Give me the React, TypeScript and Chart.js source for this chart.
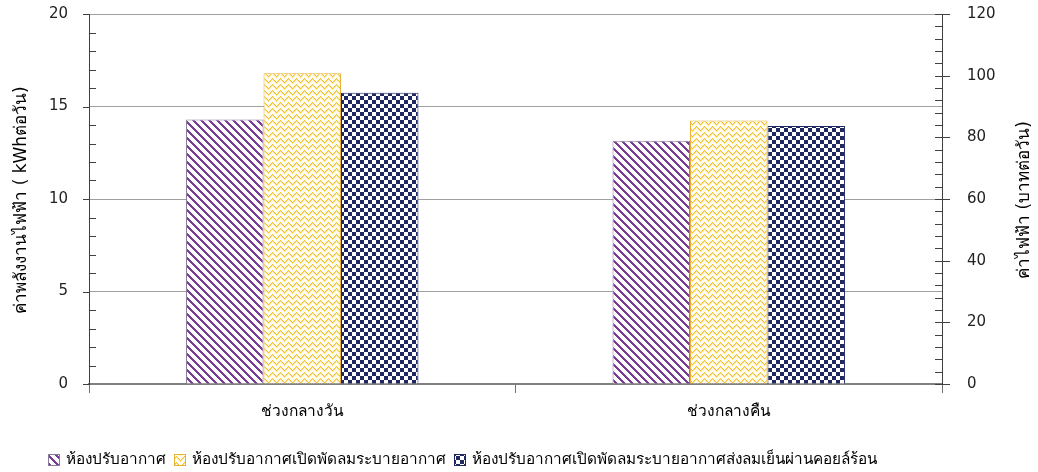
import React, { useEffect, useRef } from "react";
import { Chart, registerables } from "chart.js";

Chart.register(...registerables);

const categories = ["ช่วงกลางวัน", "ช่วงกลางคืน"];
const seriesNames = [
  "ห้องปรับอากาศ",
  "ห้องปรับอากาศเปิดพัดลมระบายอากาศ",
  "ห้องปรับอากาศเปิดพัดลมระบายอากาศส่งลมเย็นผ่านคอยล์ร้อน",
];
const acOnly = [14.3, 13.15];
const acWithFan = [16.8, 14.25];
const acFanCondenser = [15.75, 13.95];
const leftTicks = [0, 5, 10, 15, 20];
const rightTicks = [0, 20, 40, 60, 80, 100, 120];
const leftTitle = "ค่าพลังงานไฟฟ้า ( kWhต่อวัน)";
const rightTitle = "ค่าไฟฟ้า (บาทต่อวัน)";

const FONT = "Tahoma, 'DejaVu Sans', 'Noto Sans', sans-serif";

function makeTile(w: number, h: number, fn: (x: number, y: number) => string) {
  const c = document.createElement("canvas");
  c.width = w;
  c.height = h;
  const g = c.getContext("2d")!;
  for (let y = 0; y < h; y++) {
    for (let x = 0; x < w; x++) {
      g.fillStyle = fn(x, y);
      g.fillRect(x, y, 1, 1);
    }
  }
  return c;
}

function makePatterns(ctx: CanvasRenderingContext2D) {
  const stripes = makeTile(8, 8, (x, y) => {
    const d = (((x - y) % 8) + 8) % 8;
    return d < 3 ? "#7a3d98" : "#ffffff";
  });
  const zig = makeTile(8, 6, (x, y) => {
    const t = x < 4 ? x : 8 - x;
    const d = (((y - t) % 6) + 6) % 6;
    if (d === 0) return "#f5c12c";
    if (d === 1) return "#fbe08a";
    return "#fffdf2";
  });
  const check = makeTile(8, 8, (x, y) => {
    const a = Math.floor(x / 4) % 2;
    const b = Math.floor(y / 4) % 2;
    return a === b ? "#1f2862" : "#ffffff";
  });
  return [
    ctx.createPattern(stripes, "repeat")!,
    ctx.createPattern(zig, "repeat")!,
    ctx.createPattern(check, "repeat")!,
  ];
}

const borderColors = ["#8a7a9c", "#e6b23a", "#1f2862"];

export default function App() {
  const ref = useRef<HTMLCanvasElement>(null);

  useEffect(() => {
    const canvas = ref.current!;
    const ctx = canvas.getContext("2d")!;
    const patterns = makePatterns(ctx);
    const seriesData = [acOnly, acWithFan, acFanCondenser];

    const decor = {
      id: "decor",
      afterDraw(chart: any) {
        const c = chart.ctx as CanvasRenderingContext2D;
        const area = chart.chartArea;
        const y = chart.scales.y;
        const y1 = chart.scales.y1;
        c.save();
        c.strokeStyle = "#404040";
        c.lineWidth = 1;
        // left axis ticks
        for (let v = 0; v <= 20; v += 1) {
          const py = Math.round(y.getPixelForValue(v)) + 0.5;
          c.beginPath();
          if (v % 5 === 0) {
            c.moveTo(area.left - 6, py);
            c.lineTo(area.left, py);
          } else {
            c.moveTo(area.left, py);
            c.lineTo(area.left + 7, py);
          }
          c.stroke();
        }
        // right axis ticks
        for (let v = 0; v <= 120; v += 4) {
          const py = Math.round(y1.getPixelForValue(v)) + 0.5;
          c.beginPath();
          if (v % 20 === 0) {
            c.moveTo(area.right - 7, py);
            c.lineTo(area.right + 8, py);
          } else {
            c.moveTo(area.right - 7, py);
            c.lineTo(area.right, py);
          }
          c.stroke();
        }
        // axis titles
        c.fillStyle = "#000";
        c.font = `17px ${FONT}`;
        c.textAlign = "center";
        c.textBaseline = "middle";
        c.save();
        c.translate(22, 200);
        c.rotate(-Math.PI / 2);
        c.fillText(leftTitle, 0, 0);
        c.restore();
        c.save();
        c.translate(1025, 200);
        c.rotate(-Math.PI / 2);
        c.fillText(rightTitle, 0, 0);
        c.restore();
        // legend
        c.font = `15.3px ${FONT}`;
        c.textAlign = "left";
        let x = 48;
        const ly = 460;
        seriesNames.forEach((name, i) => {
          c.fillStyle = patterns[i];
          c.fillRect(x, ly - 6, 12, 12);
          c.strokeStyle = borderColors[i];
          c.lineWidth = 1;
          c.strokeRect(x + 0.5, ly - 6 + 0.5, 11, 11);
          c.fillStyle = "#000";
          c.fillText(name, x + 18, ly);
          x += 18 + c.measureText(name).width + 8;
        });
        c.restore();
      },
    };

    const chart = new Chart(ctx, {
      type: "bar",
      data: {
        labels: categories,
        datasets: seriesNames.map((n, i) => ({
          label: n,
          data: seriesData[i],
          backgroundColor: patterns[i] as any,
          borderColor: borderColors[i],
          borderWidth: 1,
          yAxisID: "y",
          categoryPercentage: 0.545,
          barPercentage: 1.0,
        })),
      },
      options: {
        animation: false,
        responsive: false,
        maintainAspectRatio: false,
        layout: { padding: { top: 14, bottom: 38, left: 0, right: 0 } },
        plugins: {
          legend: { display: false },
          tooltip: { enabled: false },
        },
        scales: {
          x: {
            type: "category",
            offset: true,
            grid: {
              display: true,
              drawOnChartArea: false,
              drawTicks: true,
              tickLength: 9,
              color: "#707070",
              offset: true,
            },
            border: { display: true, color: "#808080", width: 2 },
            ticks: { padding: 10, color: "#000", font: { family: FONT, size: 15.5 } },
            afterFit: (s: any) => {
              s.height = 50;
              s.paddingLeft = 0;
              s.paddingRight = 0;
            },
          },
          y: {
            position: "left",
            min: 0,
            max: 20,
            afterBuildTicks: (s: any) => {
              s.ticks = leftTicks.map((v) => ({ value: v }));
            },
            grid: { color: "#a0a0a0", drawTicks: false, lineWidth: 1 },
            border: { display: true, color: "#404040", width: 1 },
            ticks: { padding: 21, color: "#222", font: { family: FONT, size: 15 } },
            afterFit: (s: any) => {
              s.width = 89;
              s.paddingTop = 0;
              s.paddingBottom = 0;
            },
          },
          y1: {
            position: "right",
            min: 0,
            max: 120,
            afterBuildTicks: (s: any) => {
              s.ticks = rightTicks.map((v) => ({ value: v }));
            },
            grid: { drawOnChartArea: false, drawTicks: false },
            border: { display: true, color: "#404040", width: 1 },
            ticks: { padding: 25, color: "#222", font: { family: FONT, size: 15 } },
            afterFit: (s: any) => {
              s.width = 96;
              s.paddingTop = 0;
              s.paddingBottom = 0;
            },
          },
        },
      } as any,
      plugins: [decor],
    });
    return () => chart.destroy();
  }, []);

  return (
    <div style={{ position: "fixed", left: 0, top: 0, width: 1038, height: 472, background: "#fff" }}>
      <canvas ref={ref} width={1038} height={472} style={{ width: 1038, height: 472 }} />
    </div>
  );
}
